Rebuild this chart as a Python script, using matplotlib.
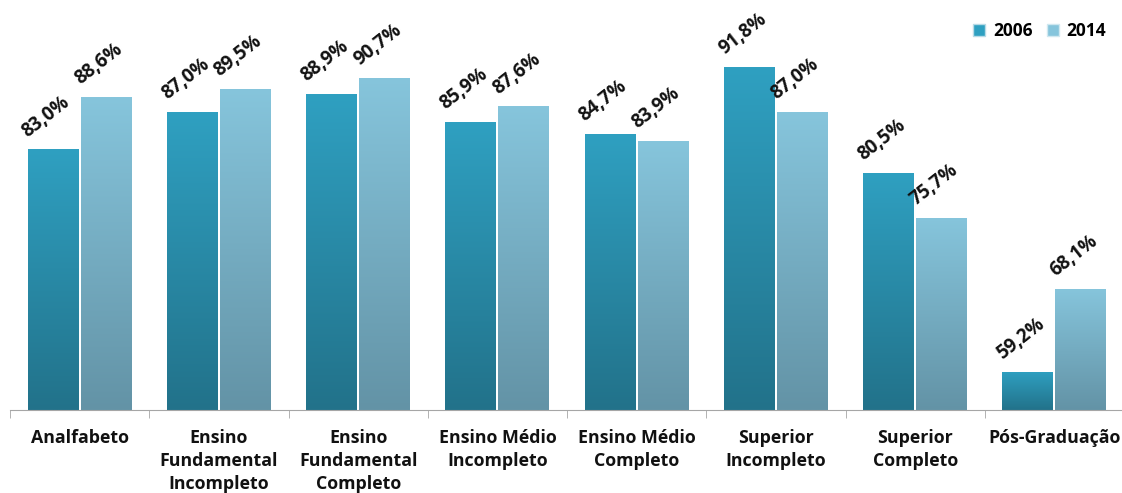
import numpy as np
import matplotlib
matplotlib.use("Agg")
import matplotlib.pyplot as plt
from matplotlib.colors import LinearSegmentedColormap
from matplotlib.patches import Patch

# Data
categories = ["Analfabeto", "Ensino\nFundamental\nIncompleto", "Ensino\nFundamental\nCompleto",
              "Ensino Médio\nIncompleto", "Ensino Médio\nCompleto", "Superior\nIncompleto",
              "Superior\nCompleto", "Pós-Graduação"]
values_2006 = [83.0, 87.0, 88.9, 85.9, 84.7, 91.8, 80.5, 59.2]
values_2014 = [88.6, 89.5, 90.7, 87.6, 83.9, 87.0, 75.7, 68.1]
series = ["2006", "2014"]

# colours (top -> bottom of each bar)
grad_2006 = ("#2FA0C1", "#22728A")
grad_2014 = ("#86C5DC", "#6393A6")

plt.rcParams['font.family'] = ['Open Sans', 'DejaVu Sans']
plt.rcParams['font.weight'] = 'bold'

W, H = 1122, 493
fig = plt.figure(figsize=(W / 100, H / 100), dpi=100)
ax = fig.add_axes([10 / W, 83 / H, 1114 / W, 410 / H])

ymin, ymax = 55.1, 99.0
x = np.arange(len(categories))
bw = 0.366
off = 0.19

def gradient_bars(xpos, vals, cols):
    bars = ax.bar(xpos, np.array(vals) - ymin, bw, bottom=ymin,
                  color="none", edgecolor="none")
    cmap = LinearSegmentedColormap.from_list("g", [cols[1], cols[0]])
    grad = np.linspace(0, 1, 256).reshape(-1, 1)
    for b in bars:
        x0, y0 = b.get_x(), b.get_y()
        im = ax.imshow(grad, cmap=cmap, origin="lower", aspect="auto",
                       extent=[x0, x0 + b.get_width(), y0, y0 + b.get_height()],
                       zorder=2)
        im.set_clip_path(b)
    for xi, v in zip(xpos, vals):
        ax.annotate(f"{v:.1f}%".replace(".", ","), xy=(xi, v),
                    xytext=(-5, 6), textcoords="offset points",
                    ha="center", va="bottom", rotation=38,
                    fontsize=13.5, fontweight="bold", color="#111111")
    return bars

gradient_bars(x - off, values_2006, grad_2006)
gradient_bars(x + off, values_2014, grad_2014)

ax.set_xlim(-0.5, len(categories) - 0.5)
ax.set_ylim(ymin, ymax)

for s in ["top", "right", "left"]:
    ax.spines[s].set_visible(False)
ax.spines["bottom"].set_color("#A6A6A6")
ax.yaxis.set_visible(False)

ax.set_xticks(x)
ax.set_xticklabels(categories, fontsize=12.8, fontweight="bold", linespacing=1.35,
                   va="top", color="#111111")
ax.tick_params(axis="x", which="major", length=0, pad=14)
ax.set_xticks(np.arange(-0.5, len(categories)), minor=True)
ax.tick_params(axis="x", which="minor", length=6, color="#A6A6A6")

handles = [Patch(facecolor=grad_2006[0], edgecolor="#b8dbe6"),
           Patch(facecolor=grad_2014[0], edgecolor="#d0e8f0")]
ax.legend(handles, series, loc="upper right", bbox_to_anchor=(0.998, 0.985),
          ncol=2, frameon=False, handlelength=0.7, handleheight=0.7,
          handletextpad=0.45, columnspacing=0.8,
          prop={"weight": "bold", "size": 12.5})

fig.savefig("out.png", dpi=100)
